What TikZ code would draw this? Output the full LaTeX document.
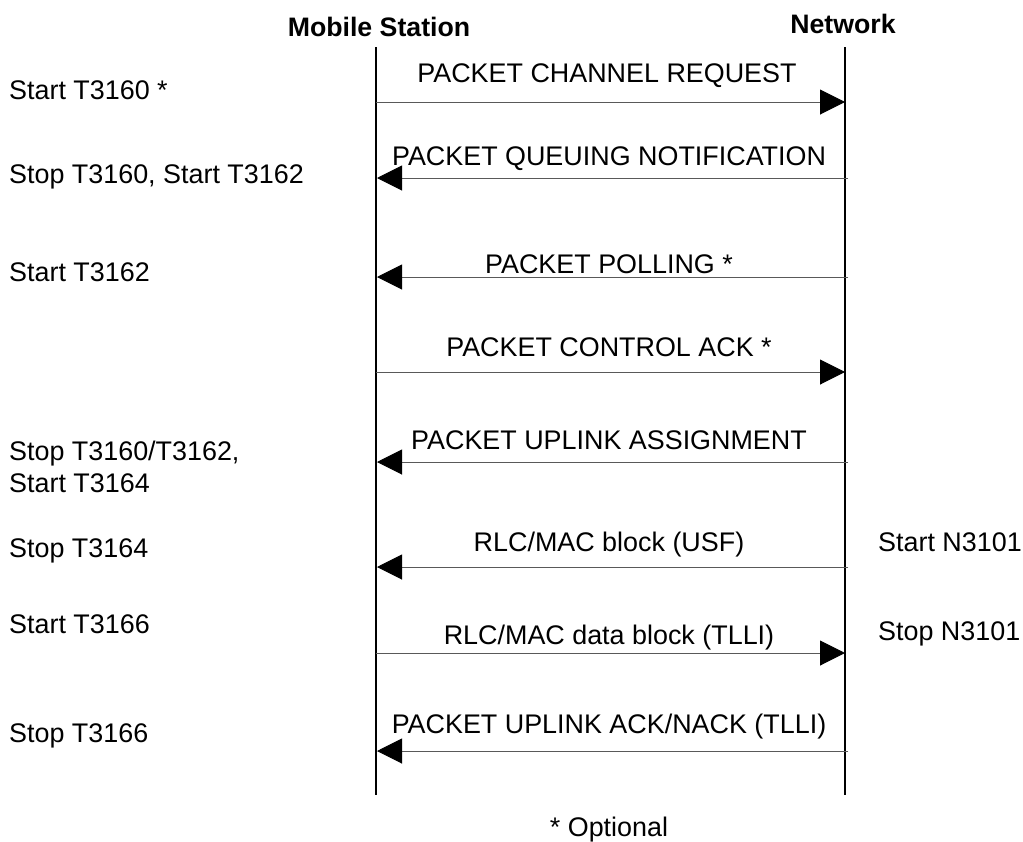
\documentclass[tikz,border=0pt]{standalone}
\usepackage{fontspec}
\setmainfont{Liberation Sans}
\usetikzlibrary{arrows.meta}
\begin{document}
\begin{tikzpicture}[x=1pt,y=-1pt,
  txt/.style={font=\fontsize{26.9}{31}\selectfont, inner sep=0pt, anchor=base},
  lbl/.style={txt, anchor=base west},
  hdr/.style={txt, font=\fontsize{26.7}{31}\selectfont\bfseries},
  life/.style={line width=1.3pt, black},
  msg/.style={line width=1pt, black!65, -{Triangle[length=25pt,width=25pt,color=black,fill=black]}}]
\useasboundingbox (0,0) rectangle (1023,841);

% headers
\node[hdr] (hms) at (379,36) {Mobile Station};
\node[hdr] (hnw) at (843,33) {Network};

% lifelines
\coordinate (mstop) at (376,47);
\coordinate (msbot) at (376,795);
\coordinate (nwtop) at (845,47);
\coordinate (nwbot) at (845,795);
\draw[life] (mstop) -- (msbot);
\draw[life] (nwtop) -- (nwbot);

% message end points
\coordinate (a1) at (376,102);  \coordinate (b1) at (845,102);
\coordinate (a2) at (377,178);  \coordinate (b2) at (848,178);
\coordinate (a3) at (377,277);  \coordinate (b3) at (848,277);
\coordinate (a4) at (376,372);  \coordinate (b4) at (845,372);
\coordinate (a5) at (377,462);  \coordinate (b5) at (848,462);
\coordinate (a6) at (377,567);  \coordinate (b6) at (848,567);
\coordinate (a7) at (376,653);  \coordinate (b7) at (845,653);
\coordinate (a8) at (377,751);  \coordinate (b8) at (848,751);

\draw[msg] (a1) -- (b1);
\draw[msg] (b2) -- (a2);
\draw[msg] (b3) -- (a3);
\draw[msg] (a4) -- (b4);
\draw[msg] (b5) -- (a5);
\draw[msg] (b6) -- (a6);
\draw[msg] (a7) -- (b7);
\draw[msg] (b8) -- (a8);

% message labels
\node[txt] (t1) at (607,82)  {PACKET CHANNEL REQUEST};
\node[txt] (t2) at (609,165) {PACKET QUEUING NOTIFICATION};
\node[txt] (t3) at (609,273) {PACKET POLLING *};
\node[txt] (t4) at (609,356) {PACKET CONTROL ACK *};
\node[txt] (t5) at (609,449) {PACKET UPLINK ASSIGNMENT};
\node[txt] (t6) at (609,551) {RLC/MAC block (USF)};
\node[txt] (t7) at (609,644) {RLC/MAC data block (TLLI)};
\node[txt] (t8) at (609,733) {PACKET UPLINK ACK/NACK (TLLI)};

% mobile station side labels
\node[lbl] (l1) at (9,99)   {Start T3160 *};
\node[lbl] (l2) at (9,183)  {Stop T3160, Start T3162};
\node[lbl] (l3) at (9,281)  {Start T3162};
\node[lbl] (l4a) at (9,460) {Stop T3160/T3162,};
\node[lbl] (l4b) at (9,492) {Start T3164};
\node[lbl] (l5) at (9,557)  {Stop T3164};
\node[lbl] (l6) at (9,633)  {Start T3166};
\node[lbl] (l7) at (9,742)  {Stop T3166};

% network side labels
\node[lbl] (r1) at (878,551) {Start N3101};
\node[lbl] (r2) at (878,640) {Stop N3101};

% footnote
\node[txt] (opt) at (609,836) {* Optional};
\end{tikzpicture}
\end{document}
